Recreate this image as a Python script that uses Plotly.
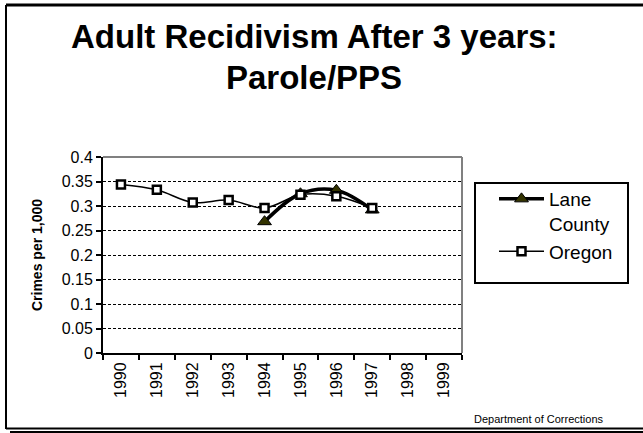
import plotly.graph_objects as go

years = ["1990", "1991", "1992", "1993", "1994", "1995", "1996", "1997", "1998", "1999"]
lane_years = ["1994", "1995", "1996", "1997"]
lane_values = [0.268, 0.325, 0.332, 0.292]
oregon_years = ["1990", "1991", "1992", "1993", "1994", "1995", "1996", "1997"]
oregon_values = [0.344, 0.333, 0.307, 0.312, 0.296, 0.323, 0.320, 0.296]
y_ticks = [0, 0.05, 0.1, 0.15, 0.2, 0.25, 0.3, 0.35, 0.4]
y_tick_labels = ["0", "0.05", "0.1", "0.15", "0.2", "0.25", "0.3", "0.35", "0.4"]

FONT = "Liberation Sans, Arial, sans-serif"
W, H = 643, 433
L, R, T, B = 103, 462, 157, 353


def px(x):
    return (x - L) / (R - L)


def py(y):
    return (B - y) / (B - T)


fig = go.Figure()
fig.add_trace(go.Scatter(
    x=lane_years, y=lane_values, name="Lane<br>County",
    mode="lines+markers",
    line=dict(color="black", width=3.5, shape="spline", smoothing=1),
    marker=dict(symbol="triangle-up", size=12, color="#333300",
                line=dict(color="black", width=1)),
))
fig.add_trace(go.Scatter(
    x=oregon_years, y=oregon_values, name="Oregon",
    mode="lines+markers",
    line=dict(color="black", width=1.5, shape="spline", smoothing=1),
    marker=dict(symbol="square", size=8, color="white",
                line=dict(color="black", width=2.5)),
))

shapes = [
    # plot area border (gray top/right)
    dict(type="line", xref="paper", yref="paper", x0=0, x1=1, y0=1, y1=1,
         line=dict(color="#808080", width=2)),
    dict(type="line", xref="paper", yref="paper", x0=1, x1=1, y0=0, y1=1,
         line=dict(color="#808080", width=2)),
    # legend box
    dict(type="rect", xref="paper", yref="paper", x0=px(475), x1=px(628),
         y0=py(283), y1=py(183), line=dict(color="black", width=2)),
    # slide frame
    dict(type="line", xref="paper", yref="paper", x0=px(6), x1=px(6),
         y0=py(5), y1=py(429), line=dict(color="black", width=2)),
    dict(type="line", xref="paper", yref="paper", x0=px(6), x1=px(643),
         y0=py(5), y1=py(5), line=dict(color="black", width=3)),
    dict(type="line", xref="paper", yref="paper", x0=px(6), x1=px(643),
         y0=py(428.5), y1=py(428.5), line=dict(color="black", width=2)),
    dict(type="line", xref="paper", yref="paper", x0=px(10), x1=px(643),
         y0=py(432), y1=py(432), line=dict(color="black", width=2)),
]

annotations = [
    dict(text="<b>Adult Recidivism After 3 years:</b>", xref="paper", yref="paper",
         x=px(314), y=py(36), xanchor="center", yanchor="middle", showarrow=False,
         font=dict(family=FONT, size=33, color="black")),
    dict(text="<b>Parole/PPS</b>", xref="paper", yref="paper",
         x=px(314), y=py(77), xanchor="center", yanchor="middle", showarrow=False,
         font=dict(family=FONT, size=33, color="black")),
    dict(text="Department of Corrections", xref="paper", yref="paper",
         x=px(538), y=py(419), xanchor="center", yanchor="middle", showarrow=False,
         font=dict(family=FONT, size=11, color="black")),
]

fig.update_layout(
    width=W, height=H,
    margin=dict(l=L, r=W - R, t=T, b=H - B, pad=0),
    paper_bgcolor="white", plot_bgcolor="white",
    font=dict(family=FONT, color="black"),
    showlegend=True,
    legend=dict(x=px(494), y=py(180), xanchor="left", yanchor="top",
                bgcolor="rgba(0,0,0,0)", borderwidth=0, valign="top",
                font=dict(family=FONT, size=19, color="black"),
                itemwidth=45, tracegroupgap=0),
    shapes=shapes,
    annotations=annotations,
    xaxis=dict(
        type="category", categoryorder="array", categoryarray=years,
        range=[-0.5, 9.5], tickson="boundaries", ticks="outside", ticklen=5,
        tickwidth=2, tickcolor="black", showline=True, linecolor="black",
        linewidth=2, showgrid=False, tickangle=-90, ticklabelstandoff=1,
        tickfont=dict(family=FONT, size=16, color="black"), automargin=False,
    ),
    yaxis=dict(
        range=[0, 0.4], tickvals=y_ticks, ticktext=y_tick_labels,
        ticks="outside", ticklen=5, tickwidth=2, tickcolor="black",
        showline=True, linecolor="black", linewidth=2,
        showgrid=True, gridcolor="black", gridwidth=1, griddash="3px,2px",
        zeroline=False,
        tickfont=dict(family=FONT, size=16, color="black"),
        title=dict(text="<b>Crimes per 1,000</b>", standoff=16,
                   font=dict(family=FONT, size=14, color="black")),
        automargin=False,
    ),
)

fig.write_html("out.html", config={"displayModeBar": False},
               post_script="document.body.style.margin='0';")
